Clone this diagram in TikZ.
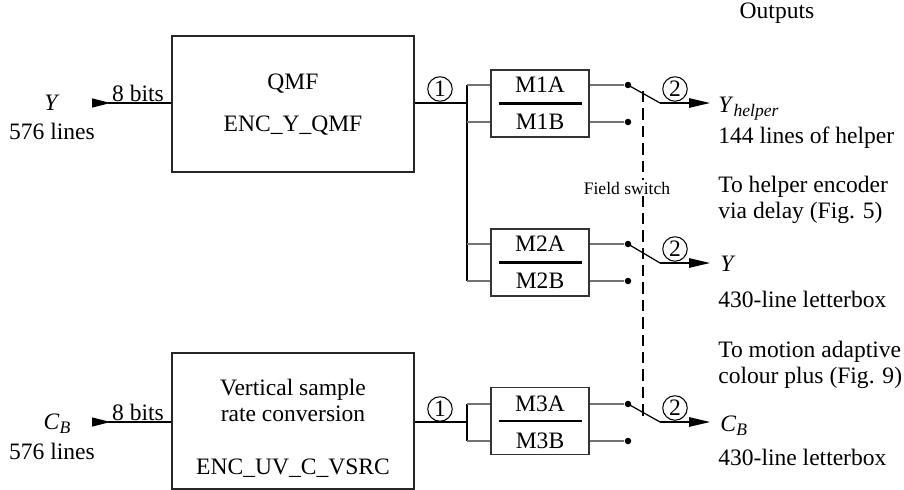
\documentclass[tikz,border=0pt]{standalone}
\usepackage{fontspec}
\setmainfont{Liberation Serif}
\usepackage{tikz}
\usetikzlibrary{arrows.meta}

\newcommand{\vsub}[2]{\textit{#1}\raisebox{-0.35ex}{\fontsize{10}{12}\selectfont\itshape #2}}

\begin{document}
\begin{tikzpicture}[x=0.02cm, y=-0.02cm,
  font=\fontsize{13.4}{15}\selectfont,
  blk/.style={draw=black!85, line width=0.8pt, minimum width=4.84cm,
              minimum height=2.72cm, inner sep=0pt},
  mbox/.style={draw=black!80, line width=0.8pt, minimum width=1.96cm,
               minimum height=1.34cm, inner sep=0pt},
  txt/.style={inner sep=0pt, align=center},
  lbl/.style={inner sep=0pt, anchor=west, align=left},
  wire/.style={draw=black!55, line width=0.8pt},
  sig/.style={draw=black, line width=0.7pt},
  inarr/.style={sig, {Triangle[reversed, length=0.37cm, width=0.18cm]}-},
  outarr/.style={sig, -{Triangle[length=0.42cm, width=0.19cm]}},
  num/.style={circle, draw, line width=0.6pt, inner sep=0pt, minimum size=0.49cm},
  dot/.style={circle, fill=black, inner sep=0pt, minimum size=0.13cm},
  fsw/.style={draw=black, line width=1.1pt, dash pattern=on 6.5pt off 3.4pt}
]
  \useasboundingbox (0,0) rectangle (904,490);

  % Nodes
  \node[blk] (qmf)  at (293,104) {};
  \node[txt] (qmft) at (293,105) {QMF\\[9pt]ENC\_Y\_QMF};
  \node[blk] (vsrc) at (293,421) {};
  \node[txt] (vsrct) at (293,428) {Vertical sample\\rate conversion\\[15pt]ENC\_UV\_C\_VSRC};

  \node[mbox] (m1) at (540,103.5) {};
  \node[txt] (m1a) at (540,85) {M1A};
  \node[txt] (m1b) at (540,122) {M1B};
  \node[mbox] (m2) at (540,262.5) {};
  \node[txt] (m2a) at (540,244) {M2A};
  \node[txt] (m2b) at (540,281) {M2B};
  \node[mbox] (m3) at (540,421) {};
  \node[txt] (m3a) at (540,404) {M3A};
  \node[txt] (m3b) at (540,441) {M3B};

  \node[num] (n1t) at (440,89) {1};
  \node[num] (n1b) at (440,409) {1};
  \node[num] (n2t) at (675,89) {2};
  \node[num] (n2m) at (675,249) {2};
  \node[num] (n2b) at (675,408) {2};

  \node[dot] (d1a) at (628,85) {};
  \node[dot] (d1b) at (628,122) {};
  \node[dot] (d2a) at (628,244) {};
  \node[dot] (d2b) at (628,281) {};
  \node[dot] (d3a) at (628,404) {};
  \node[dot] (d3b) at (628,441) {};

  % Inputs
  \node[txt] (yin)   at (52,103) {\textit{Y}};
  \node[txt] (yinl)  at (52,131) {576 lines};
  \node[txt] (cbin)  at (57,424) {\vsub{C}{B}};
  \node[txt] (cbinl) at (52,451) {576 lines};
  \node[txt] (bits1) at (138,93) {8 bits};
  \node[txt] (bits2) at (138,412) {8 bits};
  \coordinate (ya) at (92,103);
  \coordinate (cba) at (92,422);

  % Outputs
  \node[txt] (outs) at (777,13) {Outputs};
  \node[lbl] (yh)   at (718,109) {\vsub{Y}{helper}};
  \node[lbl] (yhl)  at (718,138) {144 lines of helper};
  \node[lbl] (toh)  at (718,200) {To helper encoder\\via delay (Fig. 5)};
  \node[lbl] (yo)   at (720,264) {\textit{Y}};
  \node[lbl] (yol)  at (718,299) {430-line letterbox};
  \node[lbl] (tom)  at (718,365) {To motion adaptive\\colour plus (Fig. 9)};
  \node[lbl] (cbo)  at (720,426) {\vsub{C}{B}};
  \node[lbl] (cbol) at (718,457) {430-line letterbox};

  \coordinate (j1) at (467,103);
  \coordinate (j3) at (467,422);
  \coordinate (s1) at (660,103);
  \coordinate (s2) at (660,263);
  \coordinate (s3) at (660,422);
  \coordinate (o1) at (710,103);
  \coordinate (o2) at (710,263);
  \coordinate (o3) at (710,422);
  \coordinate (fs1) at (643,91);
  \coordinate (fs2) at (643,417);

  % Paths
  \draw[inarr] (ya) -- (qmf.west |- ya);
  \draw[inarr] (cba) -- (vsrc.west |- cba);
  \draw[sig] (qmf.east |- j1) -- (j1);
  \draw[sig] (vsrc.east |- j3) -- (j3);
  \draw[sig] (j1 |- m1a) -- (j1 |- m2b);
  \draw[sig] (j3 |- m3a) -- (j3 |- m3b);
  \foreach \b/\r in {m1/m1a, m1/m1b, m2/m2a, m2/m2b, m3/m3a, m3/m3b}
    \draw[wire] (j1 |- \r) -- (\b.west |- \r);
  \foreach \b/\d in {m1/d1a, m1/d1b, m2/d2a, m2/d2b, m3/d3a, m3/d3b}
    \draw[wire] (\b.east |- \d) -- (\d);
  \foreach \b in {m1, m2, m3}
    \draw[line width=1.3pt] ([xshift=0.18cm]\b.west) -- ([xshift=-0.16cm]\b.east);

  % Switches
  \draw[sig] (d1a.center) -- (s1);
  \draw[sig] (d2a.center) -- (s2);
  \draw[sig] (d3a.center) -- (s3);
  \draw[outarr] (s1) -- (o1);
  \draw[outarr] (s2) -- (o2);
  \draw[outarr] (s3) -- (o3);
  \draw[fsw] (fs1) -- (fs2);
  \node[txt, fill=white, inner sep=1pt, font=\fontsize{10}{12}\selectfont] (fst) at (627,188) {Field switch};
\end{tikzpicture}
\end{document}
